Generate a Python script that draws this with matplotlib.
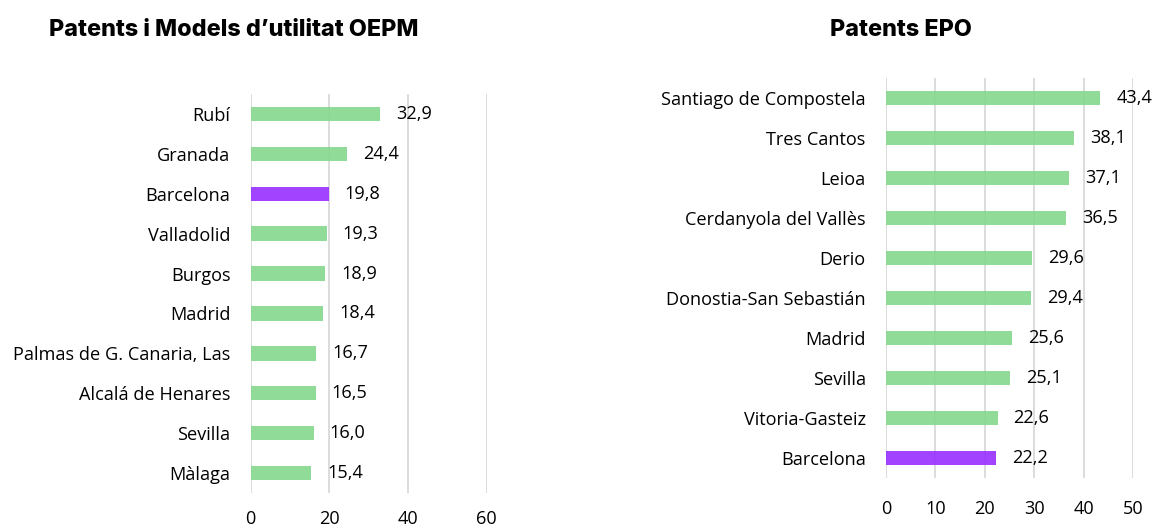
import matplotlib
matplotlib.use("Agg")
import matplotlib.pyplot as plt

# Data
oepm_cities = ["Rubí", "Granada", "Barcelona", "Valladolid", "Burgos", "Madrid",
               "Palmas de G. Canaria, Las", "Alcalá de Henares", "Sevilla", "Màlaga"]
oepm_values = [32.9, 24.4, 19.8, 19.3, 18.9, 18.4, 16.7, 16.5, 16.0, 15.4]
oepm_ticks = [0, 20, 40, 60]

epo_cities = ["Santiago de Compostela", "Tres Cantos", "Leioa", "Cerdanyola del Vallès",
              "Derio", "Donostia-San Sebastián", "Madrid", "Sevilla", "Vitoria-Gasteiz", "Barcelona"]
epo_values = [43.4, 38.1, 37.1, 36.5, 29.6, 29.4, 25.6, 25.1, 22.6, 22.2]
epo_ticks = [0, 10, 20, 30, 40, 50]

titles = ["Patents i Models d\u2019utilitat OEPM", "Patents EPO"]
highlight = "Barcelona"

GREEN = "#88D88F"
PURPLE = "#9933FF"
GRID = "#D9D9D9"
LABEL_FONT = ["Open Sans", "DejaVu Sans"]
FS = 13.1

fig = plt.figure(figsize=(11.56, 5.29), dpi=100)

def draw(ax, cities, values, ticks, title, title_x, xpad):
    n = len(cities)
    ypos = list(range(n))[::-1]
    colors = [PURPLE if c == highlight else GREEN for c in cities]
    ax.set_axisbelow(True)
    ax.grid(axis="x", color=GRID, linewidth=1.3)
    ax.barh(ypos, values, height=0.36, color=colors, alpha=0.92, zorder=2)
    ax.set_ylim(-0.5, n - 0.5)
    ax.set_xlim(ticks[0], ticks[-1])
    ax.set_xticks(ticks)
    ax.set_xticklabels([str(t) for t in ticks], fontsize=FS, family=LABEL_FONT)
    ax.set_yticks(ypos)
    ax.set_yticklabels(cities, fontsize=FS, family=LABEL_FONT)
    ax.tick_params(axis="both", length=0)
    ax.tick_params(axis="y", pad=14.5)
    ax.tick_params(axis="x", pad=xpad)
    for s in ax.spines.values():
        s.set_visible(False)
    for y, v in zip(ypos, values):
        ax.annotate(f"{v:.1f}".replace(".", ","), (v, y), xytext=(11.5, 0),
                    textcoords="offset points", va="center", ha="left",
                    fontsize=FS, family=LABEL_FONT)
    fig.text(title_x, 1 - 29.5 / 529, title, ha="center", va="center",
             fontsize=16.8, fontweight="heavy", family=["Inter", "DejaVu Sans"])

ax1 = fig.add_axes([250.7 / 1156, 1 - 493 / 529, 236 / 1156, 399 / 529])
ax2 = fig.add_axes([886 / 1156, 1 - 478 / 529, 247 / 1156, 400 / 529])

draw(ax1, oepm_cities, oepm_values, oepm_ticks, titles[0], 234 / 1156, 12)
draw(ax2, epo_cities, epo_values, epo_ticks, titles[1], 901 / 1156, 15.5)

fig.savefig("out.png", dpi=100)
